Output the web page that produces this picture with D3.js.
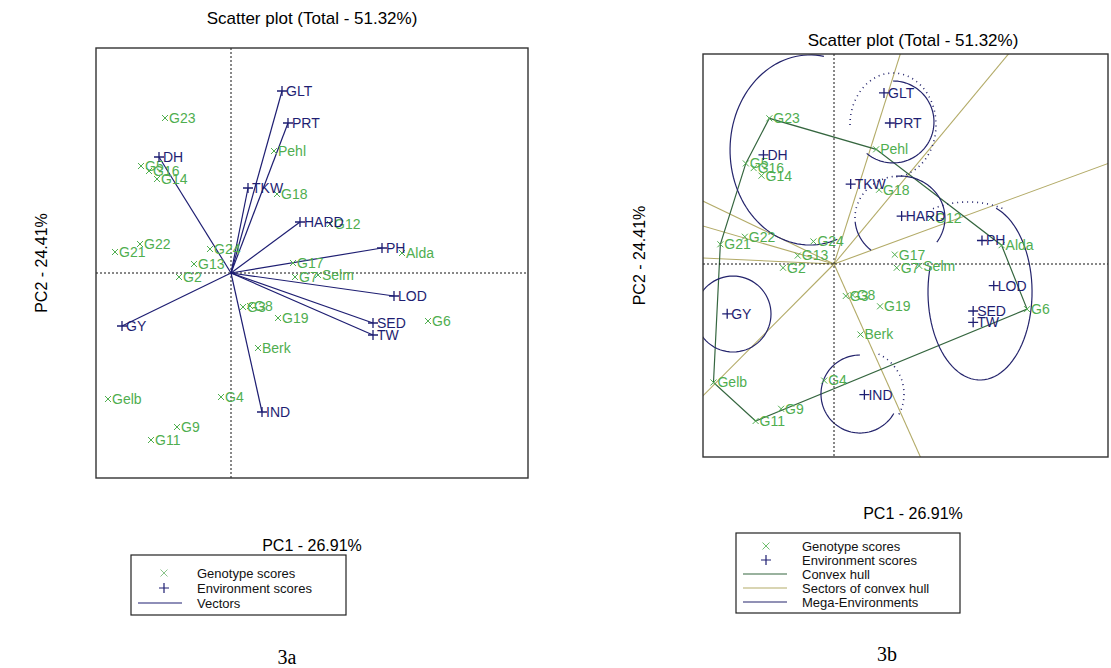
<!DOCTYPE html>
<html>
<head>
<meta charset="utf-8">
<script src="https://cdnjs.cloudflare.com/ajax/libs/d3/7.8.5/d3.min.js"></script>
<style>
body { margin: 0; background: #fff; }
text { font-family: "Liberation Sans", Arial, sans-serif; }
</style>
</head>
<body>
<div id="chart"></div>
<script>
var width = 1111, height = 668;

var genoColor = "#4fae4f";
var envColor = "#1e1e72";
var hullColor = "#35663f";
var sectorColor = "#b3ab68";
var megaColor = "#24246c";

// genotype scores (PC1, PC2)
var genoNames = ["G23", "G5", "G16", "G14", "G21", "G22", "G24", "G13", "G2", "G3", "G8", "Berk",
                 "Gelb", "G4", "G9", "G11", "Pehl", "G18", "G12", "Alda", "G17", "G7", "Selm", "G19", "G6"];
var genoPC1 = [-0.66, -0.90, -0.82, -0.74, -1.16, -0.91, -0.21, -0.37, -0.52, 0.12, 0.19, 0.27,
               -1.23, -0.10, -0.54, -0.80, 0.43, 0.46, 0.99, 1.71, 0.62, 0.64, 0.87, 0.47, 1.97];
var genoPC2 = [1.55, 1.07, 1.02, 0.94, 0.21, 0.29, 0.24, 0.09, -0.04, -0.34, -0.33, -0.75,
               -1.26, -1.24, -1.54, -1.67, 1.22, 0.79, 0.49, 0.20, 0.10, -0.04, -0.02, -0.45, -0.48];

// environment (trait) scores
var envNames = ["GLT", "PRT", "TKW", "HARD", "PH", "LOD", "SED", "TW", "IND", "GY", "DH"];
var envPC1 = [0.51, 0.57, 0.17, 0.69, 1.51, 1.63, 1.42, 1.42, 0.31, -1.09, -0.72];
var envPC2 = [1.82, 1.50, 0.85, 0.51, 0.25, -0.23, -0.50, -0.62, -1.39, -0.53, 1.16];

// mega-environment outlines (centre, radii in PC units, drawn from/to angle in degrees)
var megaCx     = [-0.245, 0.602, 0.602, 0.673, 0.673, 0.673, 1.367, 1.490, -1.031, 0.265, 0.265];
var megaCy     = [1.213, 1.479, 1.511, 0.489, 0.489, 0.489, 0.128, -0.298, -0.532, -1.383, -1.383];
var megaRx     = [0.816, 0.439, 0.418, 0.459, 0.459, 0.459, 0.714, 0.531, 0.388, 0.398, 0.449];
var megaRy     = [1.011, 0.553, 0.436, 0.447, 0.447, 0.447, 0.532, 0.936, 0.404, 0.415, 0.468];
var megaFrom   = [70, 180, -90, -95, 130, 180, -120, -72, 0, 30, -65];
var megaTo     = [280, 450, 130, 35, 175, 265, -60, 197, 360, 270, 30];
var megaDotted = [false, true, false, false, false, true, true, false, false, false, true];

var genotypes = genoNames.map(function (n, i) { return {name: n, pc1: genoPC1[i], pc2: genoPC2[i]}; });
var environments = envNames.map(function (n, i) { return {name: n, pc1: envPC1[i], pc2: envPC2[i]}; });

var svg = d3.select("#chart").append("svg")
    .attr("width", width)
    .attr("height", height);

function makePanel(p) {
    var x = d3.scaleLinear().domain(p.xDomain).range([p.left, p.right]);
    var y = d3.scaleLinear().domain(p.yDomain).range([p.bottom, p.top]);
    var g = svg.append("g");
    g.append("clipPath").attr("id", "clip" + p.id)
        .append("rect")
        .attr("x", p.left).attr("y", p.top)
        .attr("width", p.right - p.left).attr("height", p.bottom - p.top);
    var plot = g.append("g").attr("clip-path", "url(#clip" + p.id + ")");

    // title and axis labels
    g.append("text")
        .attr("x", p.titleX).attr("y", p.titleY)
        .attr("text-anchor", "middle")
        .style("font-size", "17px")
        .text("Scatter plot (Total - 51.32%)");
    g.append("text")
        .attr("x", p.titleX).attr("y", p.xLabelY)
        .attr("text-anchor", "middle")
        .style("font-size", "16px")
        .text("PC1 - 26.91%");
    g.append("text")
        .attr("transform", "translate(" + p.yLabelX + "," + ((p.top + p.bottom) / 2) + ") rotate(-90)")
        .attr("text-anchor", "middle")
        .style("font-size", "16px")
        .text("PC2 - 24.41%");

    return {x: x, y: y, g: g, plot: plot, p: p};
}

function drawAxesAndBox(panel) {
    var x = panel.x, y = panel.y, p = panel.p;
    panel.plot.append("line")
        .attr("x1", x(0)).attr("x2", x(0)).attr("y1", p.top).attr("y2", p.bottom)
        .attr("stroke", "#111").attr("stroke-width", 1).attr("stroke-dasharray", "2,2");
    panel.plot.append("line")
        .attr("x1", p.left).attr("x2", p.right).attr("y1", y(0)).attr("y2", y(0))
        .attr("stroke", "#111").attr("stroke-width", 1).attr("stroke-dasharray", "2,2");
    panel.g.append("rect")
        .attr("x", p.left).attr("y", p.top)
        .attr("width", p.right - p.left).attr("height", p.bottom - p.top)
        .attr("fill", "none").attr("stroke", "#333").attr("stroke-width", 1.4);
}

function drawScores(panel) {
    var x = panel.x, y = panel.y;
    var gs = panel.plot.selectAll("g.geno").data(genotypes).enter().append("g")
        .attr("class", "geno")
        .attr("transform", function (d) { return "translate(" + x(d.pc1) + "," + y(d.pc2) + ")"; });
    gs.append("path")
        .attr("d", "M-3,-3L3,3M-3,3L3,-3")
        .attr("stroke", genoColor).attr("stroke-width", 1);
    gs.append("text")
        .attr("x", 4).attr("dy", "0.35em")
        .style("font-size", "14px")
        .attr("fill", genoColor)
        .text(function (d) { return d.name; });

    var es = panel.plot.selectAll("g.env").data(environments).enter().append("g")
        .attr("class", "env")
        .attr("transform", function (d) { return "translate(" + x(d.pc1) + "," + y(d.pc2) + ")"; });
    es.append("path")
        .attr("d", "M-5,0L5,0M0,-5L0,5")
        .attr("stroke", envColor).attr("stroke-width", 1.3);
    es.append("text")
        .attr("x", 4).attr("dy", "0.35em")
        .style("font-size", "14px")
        .attr("fill", envColor)
        .text(function (d) { return d.name; });
}

// ---------- 3a : vectors ----------
var left = makePanel({
    id: "a", left: 96, right: 528, top: 48, bottom: 478,
    xDomain: [-1.35, 2.97], yDomain: [-2.05, 2.25],
    titleX: 312, titleY: 24, xLabelY: 551, yLabelX: 47
});
drawAxesAndBox(left);
left.plot.selectAll("line.vec").data(environments).enter().append("line")
    .attr("class", "vec")
    .attr("x1", left.x(0)).attr("y1", left.y(0))
    .attr("x2", function (d) { return left.x(d.pc1); })
    .attr("y2", function (d) { return left.y(d.pc2); })
    .attr("stroke", envColor).attr("stroke-width", 1.2);
drawScores(left);

// ---------- 3b : which-won-where ----------
var right = makePanel({
    id: "b", left: 703, right: 1108, top: 54, bottom: 457,
    xDomain: [-1.337, 2.796], yDomain: [-2.053, 2.234],
    titleX: 913, titleY: 46, xLabelY: 519, yLabelX: 645
});

var hull = d3.polygonHull(genotypes.map(function (d) { return [d.pc1, d.pc2]; }));

// sector rays: perpendicular from origin to each hull side
hull.forEach(function (a, i) {
    var b = hull[(i + 1) % hull.length];
    var dx = b[0] - a[0], dy = b[1] - a[1];
    var t = -(a[0] * dx + a[1] * dy) / (dx * dx + dy * dy);
    var fx = a[0] + t * dx, fy = a[1] + t * dy;
    right.plot.append("line")
        .attr("x1", right.x(0)).attr("y1", right.y(0))
        .attr("x2", right.x(fx * 20)).attr("y2", right.y(fy * 20))
        .attr("stroke", sectorColor).attr("stroke-width", 1.1);
});

right.plot.append("path")
    .attr("d", "M" + hull.map(function (d) { return right.x(d[0]) + "," + right.y(d[1]); }).join("L") + "Z")
    .attr("fill", "none").attr("stroke", hullColor).attr("stroke-width", 1.2);

var arcLine = d3.line()
    .x(function (d) { return right.x(d[0]); })
    .y(function (d) { return right.y(d[1]); })
    .curve(d3.curveLinear);
megaCx.forEach(function (cx, i) {
    var pts = d3.range(0, 73).map(function (k) {
        var t = (megaFrom[i] + (megaTo[i] - megaFrom[i]) * k / 72) * Math.PI / 180;
        return [cx + megaRx[i] * Math.cos(t), megaCy[i] - megaRy[i] * Math.sin(t)];
    });
    right.plot.append("path")
        .attr("d", arcLine(pts))
        .attr("fill", "none")
        .attr("stroke", megaColor)
        .attr("stroke-width", megaDotted[i] ? 1.6 : 1.2)
        .attr("stroke-dasharray", megaDotted[i] ? "1,4" : null);
});

drawAxesAndBox(right);
drawScores(right);

// ---------- legends ----------
function legend(x0, y0, w, h, rows, textX, symX, lineX1, lineX2) {
    var g = svg.append("g");
    g.append("rect").attr("x", x0).attr("y", y0).attr("width", w).attr("height", h)
        .attr("fill", "#fff").attr("stroke", "#222").attr("stroke-width", 1.2);
    rows.forEach(function (r) {
        if (r.kind === "x") {
            g.append("path").attr("transform", "translate(" + symX + "," + r.y + ")")
                .attr("d", "M-3.5,-3.5L3.5,3.5M-3.5,3.5L3.5,-3.5")
                .attr("stroke", r.color).attr("stroke-width", 1);
        } else if (r.kind === "+") {
            g.append("path").attr("transform", "translate(" + symX + "," + r.y + ")")
                .attr("d", "M-5,0L5,0M0,-5L0,5")
                .attr("stroke", r.color).attr("stroke-width", 1.2);
        } else {
            g.append("line").attr("x1", lineX1).attr("x2", lineX2).attr("y1", r.y).attr("y2", r.y)
                .attr("stroke", r.color).attr("stroke-width", 1.2);
        }
        g.append("text").attr("x", textX).attr("y", r.y).attr("dy", "0.35em")
            .style("font-size", "13px").attr("fill", "#111").text(r.label);
    });
}

legend(131, 555, 215, 60, [
    {kind: "x", color: "#8ac48a", label: "Genotype scores", y: 573},
    {kind: "+", color: envColor, label: "Environment scores", y: 588},
    {kind: "line", color: envColor, label: "Vectors", y: 603}
], 197, 164, 138, 182);

legend(736, 533, 224, 80, [
    {kind: "x", color: "#6fbf6f", label: "Genotype scores", y: 546},
    {kind: "+", color: envColor, label: "Environment scores", y: 560},
    {kind: "line", color: hullColor, label: "Convex hull", y: 574},
    {kind: "line", color: sectorColor, label: "Sectors of convex hull", y: 588},
    {kind: "line", color: megaColor, label: "Mega-Environments", y: 602}
], 802, 766, 743, 787);

svg.append("text").attr("x", 287).attr("y", 664).attr("text-anchor", "middle")
    .style("font-family", "'Liberation Serif', 'Times New Roman', serif").style("font-size", "20px")
    .text("3a");
svg.append("text").attr("x", 887).attr("y", 661).attr("text-anchor", "middle")
    .style("font-family", "'Liberation Serif', 'Times New Roman', serif").style("font-size", "20px")
    .text("3b");
</script>
</body>
</html>
